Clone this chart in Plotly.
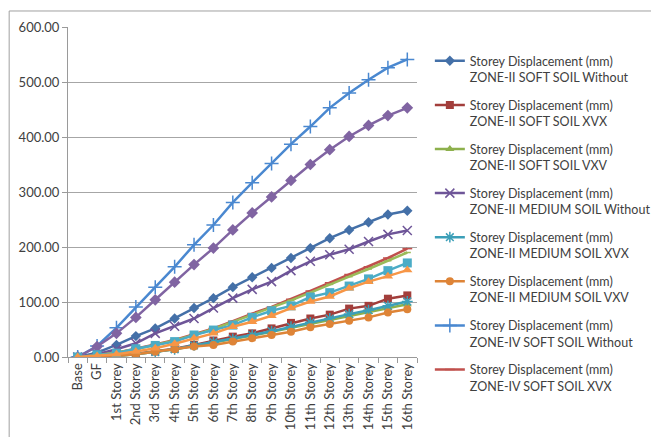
import plotly.graph_objects as go

categories = ["Base", "GF", "1st Storey", "2nd Storey", "3rd Storey", "4th Storey", "5th Storey",
              "6th Storey", "7th Storey", "8th Storey", "9th Storey", "10th Storey", "11th Storey",
              "12th Storey", "13th Storey", "14th Storey", "15th Storey", "16th Storey"]

z2_soft_without = [0, 8, 22, 38, 52, 70, 89, 107, 127, 145, 162, 180, 198, 216, 231, 245, 259, 266]
z2_soft_xvx = [0, 1, 3, 6, 10, 15, 22, 30, 37, 43, 52, 62, 70, 77, 88, 93, 106, 112]
z2_soft_vxv = [0, 1, 2, 5, 9, 14, 20, 26, 32, 39, 46, 53, 61, 68, 75, 82, 89, 96]
z2_med_without = [0, 5, 14, 25, 43, 56, 70, 89, 107, 123, 137, 157, 174, 186, 196, 210, 223, 230]
z2_med_xvx = [0, 1, 2, 5, 9, 14, 21, 27, 33, 40, 47, 55, 63, 70, 78, 85, 93, 101]
z2_med_vxv = [0, 1, 2, 5, 10, 14, 19, 22, 28, 34, 40, 46, 54, 60, 66, 72, 81, 87]
z4_soft_without = [0, 20, 53, 91, 127, 164, 204, 240, 281, 317, 352, 387, 419, 453, 480, 504, 526, 541]
z4_soft_xvx = [0, 3, 8, 15, 23, 31, 41, 52, 65, 79, 91, 105, 120, 135, 150, 164, 180, 197]
z4_soft_vxv = [0, 3, 8, 14, 22, 30, 40, 51, 64, 77, 89, 103, 117, 132, 146, 160, 175, 190]
z4_med_without = [0, 19, 43, 72, 104, 136, 168, 198, 231, 262, 291, 321, 350, 377, 401, 421, 439, 453]
z4_med_xvx = [0, 4, 7, 15, 21, 28, 40, 49, 58, 72, 84, 93, 109, 117, 129, 142, 157, 171]
z4_med_vxv = [0, 2, 5, 10, 16, 24, 34, 43, 55, 64, 75, 89, 101, 110, 125, 137, 147, 158]

series = [
    ("Storey Displacement (mm)<br>ZONE-II SOFT SOIL Without", z2_soft_without, "#4470A8", "diamond", 8, True),
    ("Storey Displacement (mm)<br>ZONE-II SOFT SOIL XVX", z2_soft_xvx, "#A23E3B", "square", 8, True),
    ("Storey Displacement (mm)<br>ZONE-II SOFT SOIL VXV", z2_soft_vxv, "#8DB04C", "triangle-up", 8, True),
    ("Storey Displacement (mm)<br>ZONE-II MEDIUM SOIL Without", z2_med_without, "#6E5598", "x-thin-open", 9, True),
    ("Storey Displacement (mm)<br>ZONE-II MEDIUM SOIL XVX", z2_med_xvx, "#3C9FB8", "asterisk-open", 9, True),
    ("Storey Displacement (mm)<br>ZONE-II MEDIUM SOIL VXV", z2_med_vxv, "#DE8437", "circle", 8, True),
    ("Storey Displacement (mm)<br>ZONE-IV SOFT SOIL Without", z4_soft_without, "#4A88D0", "cross-thin-open", 10, True),
    ("Storey Displacement (mm)<br>ZONE-IV SOFT SOIL XVX", z4_soft_xvx, "#C0504D", "line-ew-open", 7, True),
    ("Storey Displacement (mm)<br>ZONE-IV SOFT SOIL VXV", z4_soft_vxv, "#9BBB59", "line-ew-open", 5, False),
    ("Storey Displacement (mm)<br>ZONE-IV MEDIUM SOIL Without", z4_med_without, "#8064A2", "diamond", 9, False),
    ("Storey Displacement (mm)<br>ZONE-IV MEDIUM SOIL XVX", z4_med_xvx, "#4BACC6", "square", 9, False),
    ("Storey Displacement (mm)<br>ZONE-IV MEDIUM SOIL VXV", z4_med_vxv, "#F79646", "triangle-up", 9, False),
]

fig = go.Figure()
for i, (name, vals, color, sym, size, show) in enumerate(series):
    open_sym = sym.endswith("open")
    fig.add_trace(go.Scatter(
        x=categories, y=vals, name=name, mode="lines+markers",
        line=dict(color=color, width=2.5),
        marker=dict(symbol=sym, size=size, color=color,
                    line=dict(color=color, width=1.5 if open_sym else 0)),
        showlegend=show, legendgroup="g%d" % i,
    ))

FONT = "Lato, Open Sans, sans-serif"
fig.update_layout(
    width=651, height=429,
    margin=dict(l=59.5, r=241.5, t=19, b=80, autoexpand=False),
    paper_bgcolor="white", plot_bgcolor="white",
    font=dict(family=FONT, size=13, color="#404040"),
    legend=dict(xref="container", yref="container", x=0.648, y=0.911,
                xanchor="left", yanchor="top", valign="top", maxheight=400,
                tracegroupgap=8.6, font=dict(size=12.5, color="#404040"),
                bgcolor="rgba(0,0,0,0)"),
    xaxis=dict(type="category", range=[-0.5, 17.5], tickangle=-90,
               showline=True, linecolor="#9A9A9A", linewidth=1,
               ticks="outside", tickson="boundaries", ticklen=5, tickcolor="#9A9A9A",
               showgrid=False, tickfont=dict(size=13, color="#404040")),
    yaxis=dict(range=[0, 600], dtick=100, tickformat=".2f",
               showline=True, linecolor="#9A9A9A", linewidth=1,
               ticks="outside", ticklen=5, tickcolor="#9A9A9A",
               gridcolor="#A6A6A6", gridwidth=1, zeroline=False,
               tickfont=dict(size=13, color="#404040")),
    shapes=[dict(type="rect", xref="paper", yref="paper",
                 x0=-0.1686, x1=1.679, y0=-0.3, y1=1.0485,
                 line=dict(color="#A0A0A0", width=1), layer="below")],
)

fig.write_html("out.html")
